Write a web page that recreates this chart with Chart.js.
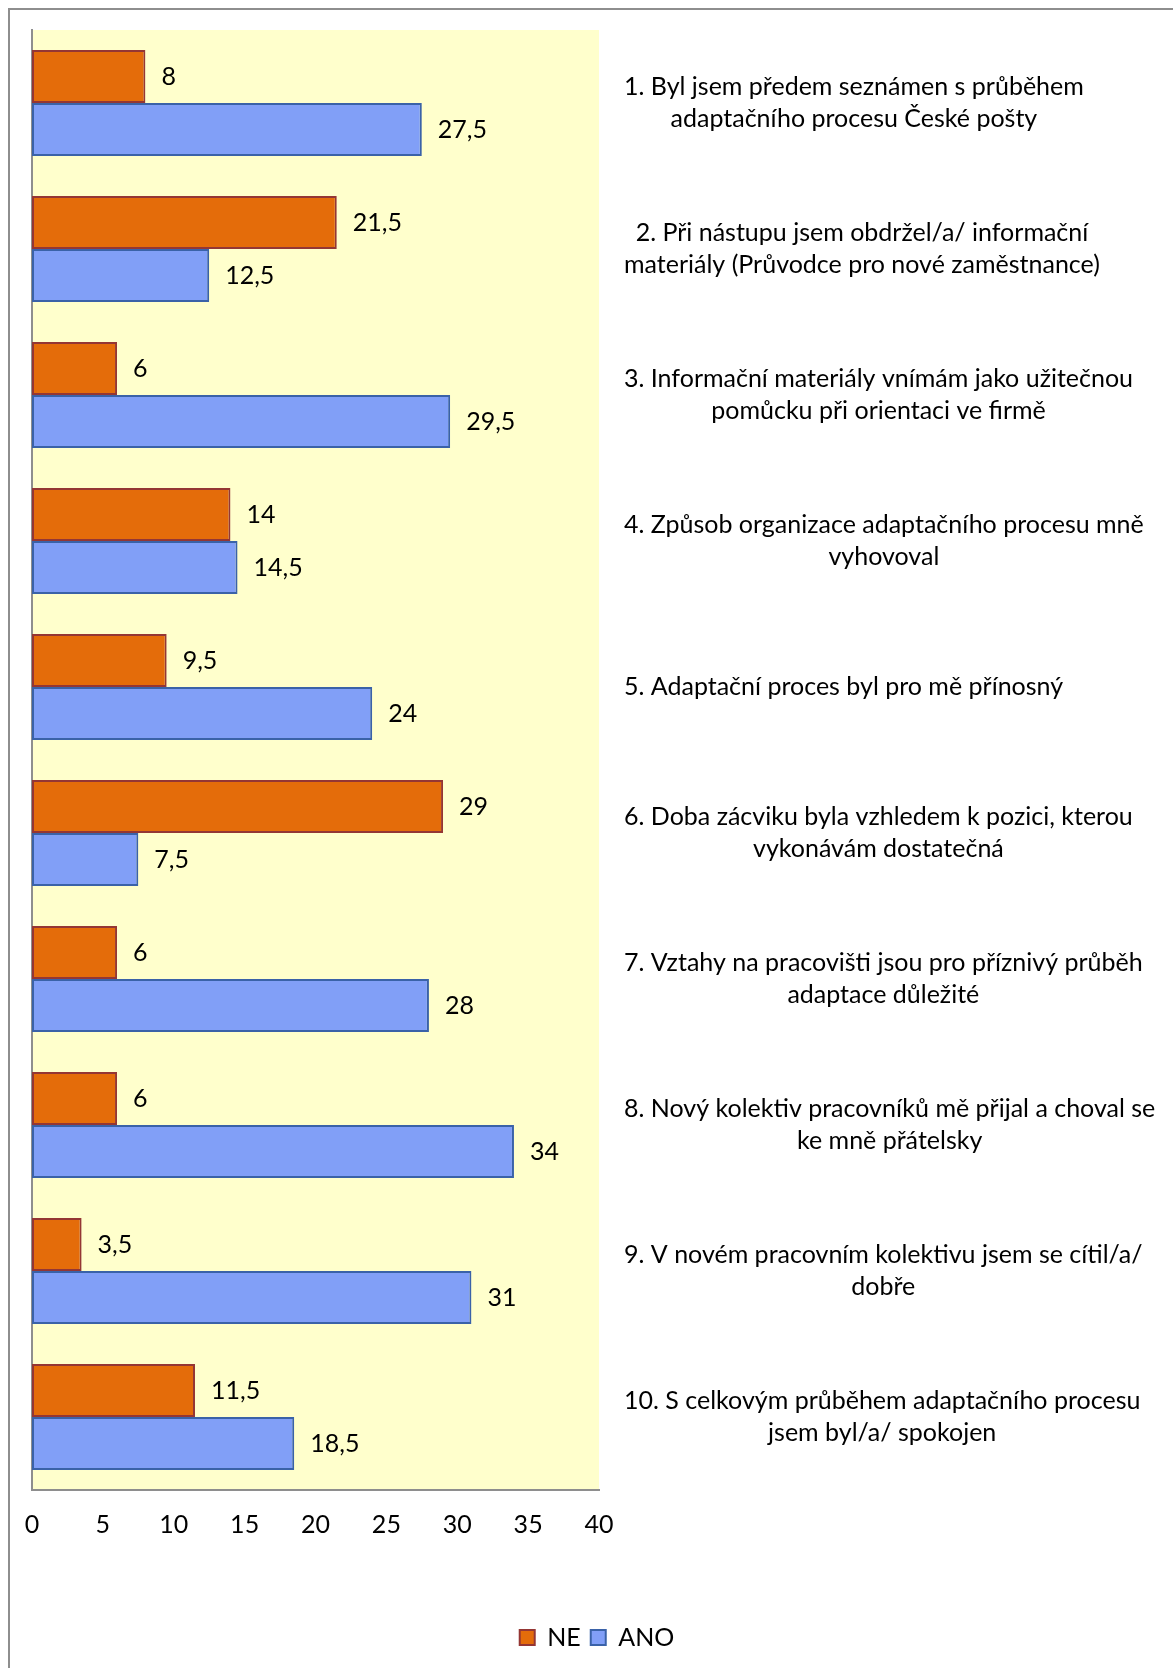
<!DOCTYPE html>
<html lang="cs">
<head>
<meta charset="utf-8">
<title>Adaptační proces – odpovědi ANO / NE</title>
<script src="https://cdn.jsdelivr.net/npm/chart.js@4.4.1/dist/chart.umd.min.js"></script>
<style>
  html, body { margin: 0; padding: 0; background: #ffffff; }
  #wrap { position: relative; width: 1173px; height: 1668px; overflow: hidden; }
  #frame {
    position: absolute; left: 8px; top: 8px; width: 3000px; height: 3000px;
    border-left: 2px solid #8e8e8e; border-top: 2px solid #8e8e8e;
  }
  #c { position: absolute; left: 0; top: 0; }
</style>
</head>
<body>
<div id="wrap">
  <div id="frame"></div>
  <canvas id="c" width="1173" height="1668"></canvas>
</div>
<script>
// Survey statements (each entry = lines of the label)
const categories = [
  ["1. Byl jsem předem seznámen s průběhem", "adaptačního procesu České pošty"],
  ["2. Při nástupu jsem obdržel/a/ informační", "materiály (Průvodce pro nové zaměstnance)"],
  ["3. Informační materiály vnímám jako užitečnou", "pomůcku při orientaci ve firmě"],
  ["4. Způsob organizace adaptačního procesu mně", "vyhovoval"],
  ["5. Adaptační proces byl pro mě přínosný"],
  ["6. Doba zácviku byla vzhledem k pozici, kterou", "vykonávám dostatečná"],
  ["7. Vztahy na pracovišti jsou pro příznivý průběh", "adaptace důležité"],
  ["8. Nový kolektiv pracovníků mě přijal a choval se", "ke mně přátelsky"],
  ["9. V novém pracovním kolektivu jsem se cítil/a/", "dobře"],
  ["10. S celkovým průběhem adaptačního procesu", "jsem byl/a/ spokojen"]
];
const seriesNames = ["NE", "ANO"];
const valuesNE  = [8, 21.5, 6, 14, 9.5, 29, 6, 6, 3.5, 11.5];
const valuesANO = [27.5, 12.5, 29.5, 14.5, 24, 7.5, 28, 34, 31, 18.5];
const xTicks = [0, 5, 10, 15, 20, 25, 30, 35, 40];

const FONT = "Lato, 'Open Sans', sans-serif";
const FS = 25;
const PLOT_BG = "#FFFFCC";
const AXIS = "#8e8e8e";
const LABEL_X = 624;      // left edge of the statement text blocks
const LINE_H = 32;        // statement line spacing

const fmt = v => String(v).replace(".", ",");

// yellow plot background
const plotBackground = {
  id: "plotBackground",
  beforeDraw(chart) {
    const a = chart.chartArea, ctx = chart.ctx;
    ctx.save();
    ctx.fillStyle = PLOT_BG;
    ctx.fillRect(a.left, a.top, a.right - a.left, a.bottom - a.top);
    ctx.restore();
  }
};

// value next to the end of each bar
const barValues = {
  id: "barValues",
  afterDatasetsDraw(chart) {
    const ctx = chart.ctx;
    ctx.save();
    ctx.font = FS + "px " + FONT;
    ctx.fillStyle = "#000";
    ctx.textAlign = "left";
    ctx.textBaseline = "middle";
    chart.data.datasets.forEach((ds, di) => {
      chart.getDatasetMeta(di).data.forEach((bar, i) => {
        ctx.fillText(fmt(ds.data[i]), bar.x + 16, bar.y);
      });
    });
    ctx.restore();
  }
};

// statement labels to the right of the plot, each block centred on its widest line
const statementLabels = {
  id: "statementLabels",
  afterDraw(chart) {
    const ctx = chart.ctx, y = chart.scales.y;
    ctx.save();
    ctx.font = FS + "px " + FONT;
    ctx.fillStyle = "#000";
    ctx.textAlign = "center";
    ctx.textBaseline = "middle";
    categories.forEach((lines, i) => {
      const cy = y.getPixelForValue(i);
      const w = Math.max(...lines.map(l => ctx.measureText(l).width));
      const cx = LABEL_X + w / 2;
      const top = cy - lines.length * LINE_H / 2;
      lines.forEach((l, k) => ctx.fillText(l, cx, top + LINE_H * (k + 0.5)));
    });
    ctx.restore();
  }
};

new Chart(document.getElementById("c"), {
  type: "bar",
  data: {
    labels: categories,
    datasets: [
      {
        label: seriesNames[0], data: valuesNE,
        backgroundColor: "#E46C0A", borderColor: "#943634", borderWidth: 2
      },
      {
        label: seriesNames[1], data: valuesANO,
        backgroundColor: "#819FF7", borderColor: "#3A62A8", borderWidth: 2
      }
    ]
  },
  options: {
    indexAxis: "y",
    responsive: false,
    animation: false,
    devicePixelRatio: 1,
    layout: { padding: { top: 30, left: 32, right: 11, bottom: 8 } },
    datasets: {
      bar: { categoryPercentage: 0.727, barPercentage: 1.0, borderSkipped: false }
    },
    scales: {
      x: {
        min: xTicks[0], max: xTicks[xTicks.length - 1],
        afterBuildTicks: s => { s.ticks = xTicks.map(v => ({ value: v })); },
        grid: { display: false, drawTicks: false },
        border: { display: true, color: AXIS, width: 2 },
        ticks: { color: "#000", font: { family: FONT, size: FS }, padding: 20, maxRotation: 0 },
        afterFit: s => { s.height = 125; }
      },
      y: {
        position: "left",
        grid: { display: false, drawTicks: false },
        border: { display: true, color: AXIS, width: 2 },
        ticks: { display: false }
      },
      y2: {
        type: "category",
        position: "right",
        labels: categories,
        grid: { display: false, drawTicks: false },
        border: { display: false },
        ticks: { display: false },
        afterFit: s => { s.width = 563; }
      }
    },
    plugins: {
      legend: {
        position: "bottom",
        labels: {
          color: "#000",
          font: { family: FONT, size: FS },
          boxWidth: 15, boxHeight: 15, padding: 10
        }
      },
      tooltip: { enabled: false }
    }
  },
  plugins: [plotBackground, barValues, statementLabels]
});
</script>
</body>
</html>
